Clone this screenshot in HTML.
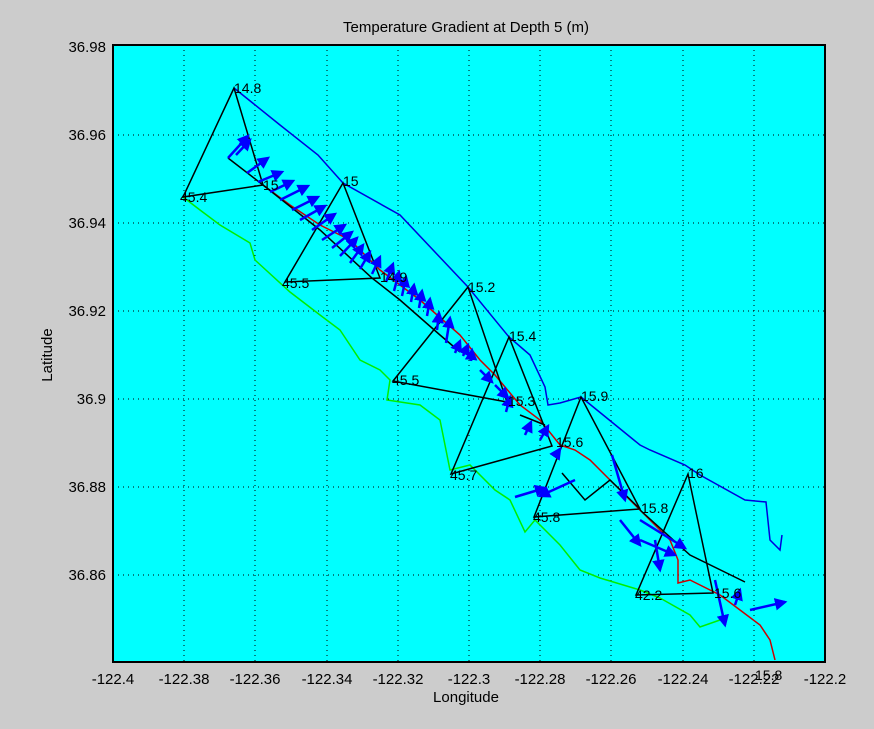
<!DOCTYPE html>
<html><head><style>
body{margin:0;background:#cccccc;}
svg text{font-family:"Liberation Sans",sans-serif;}
</style></head><body>
<svg width="874" height="724" viewBox="0 0 874 724" xmlns="http://www.w3.org/2000/svg">
<defs><marker id="ah" markerWidth="5" markerHeight="5" refX="4" refY="2.5" orient="auto" markerUnits="strokeWidth"><path d="M0,0 L5,2.5 L0,5 z" fill="#0000ff"/></marker></defs>
<rect width="874" height="724" fill="#cccccc"/>
<rect x="113" y="45" width="712" height="617" fill="#00ffff"/>
<g stroke="#000" stroke-width="1" stroke-dasharray="1,4">
<line x1="184" y1="45" x2="184" y2="662"/><line x1="255" y1="45" x2="255" y2="662"/><line x1="327" y1="45" x2="327" y2="662"/><line x1="398" y1="45" x2="398" y2="662"/><line x1="469" y1="45" x2="469" y2="662"/><line x1="540" y1="45" x2="540" y2="662"/><line x1="611" y1="45" x2="611" y2="662"/><line x1="683" y1="45" x2="683" y2="662"/><line x1="754" y1="45" x2="754" y2="662"/>
<line x1="113" y1="135" x2="825" y2="135"/><line x1="113" y1="223" x2="825" y2="223"/><line x1="113" y1="311" x2="825" y2="311"/><line x1="113" y1="399" x2="825" y2="399"/><line x1="113" y1="487" x2="825" y2="487"/><line x1="113" y1="575" x2="825" y2="575"/>
</g>
<g fill="none" stroke-width="1.5">
<polyline stroke="#00ee00" points="183,197 200,210 220,225 250,243 255,260 290,292 320,315 340,330 360,360 380,370 390,380 387,400 420,405 440,420 450,470 470,465 495,490 510,500 525,532 535,520 560,545 580,570 600,578 640,590 660,598 690,615 700,627 720,620"/>
<polyline stroke="#0000dd" points="234,88 280,125 318,155 343,183 400,215 468,287 509,337 530,355 545,387 548,405 560,403 581,397 640,445 650,450 685,465 700,475 745,500 766,502 770,540 780,550 782,535"/>
<polyline stroke="#cc0000" points="263,185 290,205 320,225 350,240 380,270 420,300 460,335 480,360 495,375 520,405 540,420 560,445 575,450 590,460 610,480 630,500 650,520 670,540 678,560 678,583 690,580 700,585 720,595 740,610 760,625 770,640 775,660"/>
</g>
<g fill="none" stroke="#000" stroke-width="1.5">
<polygon points="234,88 183,197 263,185"/>
<polygon points="343,183 285,282 380,278"/>
<polygon points="468,287 393,381 507,402"/>
<polygon points="509,337 451,474 552,446"/>
<polygon points="581,397 534,517 640,509"/>
<polygon points="688,474 636,595 713,593"/>
<polyline points="228,158 263,185 320,230 372,278 400,300 440,335 460,352"/>
<polyline points="520,415 545,425"/>
<polyline points="562,473 585,500 610,480 640,509"/>
<polyline points="640,510 690,555 745,582"/>
</g>
<g stroke="#0000ff" stroke-width="2.5" fill="none" marker-end="url(#ah)">
<path d="M228,158 L248,136"/><path d="M236,155 L250,140"/><path d="M247,173 L268,158"/><path d="M258,182 L282,172"/><path d="M270,192 L293,181"/><path d="M280,200 L308,186"/><path d="M292,210 L318,197"/><path d="M300,220 L325,206"/><path d="M312,230 L335,214"/><path d="M322,240 L345,225"/><path d="M332,248 L352,232"/><path d="M340,256 L357,238"/><path d="M350,263 L363,245"/><path d="M360,269 L370,252"/><path d="M372,274 L380,257"/><path d="M386,282 L393,264"/><path d="M394,291 L399,272"/><path d="M402,296 L406,277"/><path d="M411,302 L414,285"/><path d="M419,308 L422,291"/><path d="M427,316 L430,299"/><path d="M437,330 L439,313"/><path d="M446,343 L450,318"/><path d="M455,353 L460,341"/><path d="M463,356 L468,345"/><path d="M471,361 L472,350"/><path d="M480,370 L492,382"/><path d="M495,385 L508,398"/><path d="M506,412 L510,397"/><path d="M525,435 L531,422"/><path d="M540,440 L548,426"/><path d="M556,455 L560,449"/><path d="M575,480 L540,496"/><path d="M515,497 L545,488"/><path d="M612,455 L625,500"/><path d="M620,520 L640,545"/><path d="M640,520 L685,548"/><path d="M640,540 L675,555"/><path d="M655,540 L660,570"/><path d="M715,580 L725,625"/><path d="M735,605 L740,590"/><path d="M750,610 L785,602"/>
</g>
<g font-size="14" fill="#000">
<text x="234" y="93">14.8</text><text x="263" y="190">15</text><text x="180" y="202">45.4</text>
<text x="343" y="186">15</text><text x="282" y="288">45.5</text><text x="380" y="282">14.9</text>
<text x="468" y="292">15.2</text><text x="392" y="385">45.5</text><text x="508" y="406">15.3</text>
<text x="509" y="341">15.4</text><text x="450" y="480">45.7</text><text x="556" y="447">15.6</text>
<text x="581" y="401">15.9</text><text x="533" y="522">45.8</text><text x="641" y="513">15.8</text>
<text x="688" y="478">16</text><text x="635" y="600">42.2</text><text x="714" y="598">15.6</text>
<text x="755" y="680">15.8</text>
</g>
<rect x="113" y="45" width="712" height="617" fill="none" stroke="#000" stroke-width="2"/>
<g font-size="15" fill="#000" text-anchor="middle">
<text x="113" y="684">-122.4</text><text x="184" y="684">-122.38</text><text x="255" y="684">-122.36</text><text x="327" y="684">-122.34</text><text x="398" y="684">-122.32</text><text x="469" y="684">-122.3</text><text x="540" y="684">-122.28</text><text x="611" y="684">-122.26</text><text x="683" y="684">-122.24</text><text x="754" y="684">-122.22</text><text x="825" y="684">-122.2</text>
<text x="466" y="702">Longitude</text>
<text x="466" y="32">Temperature Gradient at Depth 5 (m)</text>
</g>
<g font-size="15" fill="#000" text-anchor="end">
<text x="106" y="52">36.98</text><text x="106" y="140">36.96</text><text x="106" y="228">36.94</text><text x="106" y="316">36.92</text><text x="106" y="404">36.9</text><text x="106" y="492">36.88</text><text x="106" y="580">36.86</text>
</g>
<text x="52" y="355" font-size="15" text-anchor="middle" transform="rotate(-90 52 355)">Latitude</text>
</svg>
</body></html>
